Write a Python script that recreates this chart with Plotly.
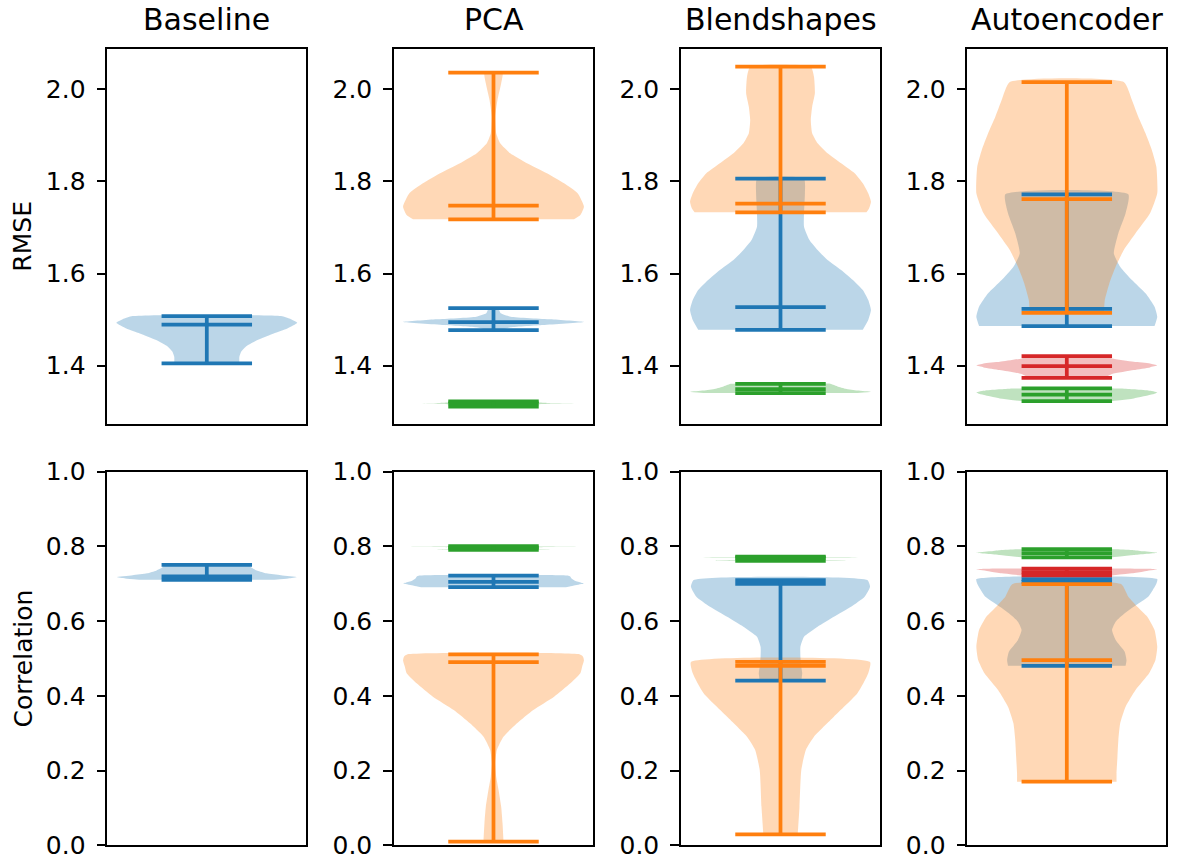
import plotly.graph_objects as go

FONT = "DejaVu Sans"
BLUE, ORANGE, GREEN, RED = "#1f77b4", "#ff7f0e", "#2ca02c", "#d62728"

methods = ["Baseline", "PCA", "Blendshapes", "Autoencoder"]
metrics = ["RMSE", "Correlation"]

# ---- RMSE: density profiles (value, relative half-width) and (min, median, max) ----
baseline_rmse_y = [1.405, 1.4193, 1.4302, 1.4411, 1.4556, 1.4701, 1.4810, 1.4932, 1.5010, 1.5077]
baseline_rmse_w = [0.36, 0.36, 0.38, 0.43, 0.56, 0.74, 0.89, 1.0, 0.93, 0.82]
baseline_rmse_stats = [1.405, 1.489, 1.5077]

pca_rmse_blue_y = [1.4773, 1.4832, 1.4882, 1.4947, 1.5006, 1.5063, 1.5136, 1.5251]
pca_rmse_blue_w = [0.07, 0.19, 0.55, 1.0, 0.63, 0.19, 0.08, 0.05]
pca_rmse_blue_stats = [1.4773, 1.4947, 1.5251]
pca_rmse_orange_y = [1.7177, 1.7270, 1.7451, 1.7742, 1.7959, 1.8176, 1.8393, 1.8610, 1.8827,
                     1.9045, 1.9405, 1.9768, 2.0130, 2.0361]
pca_rmse_orange_w = [0.89, 0.96, 1.0, 0.93, 0.78, 0.59, 0.37, 0.185, 0.074, 0.03, 0.019, 0.044, 0.085, 0.10]
pca_rmse_orange_stats = [1.7177, 1.7473, 2.0361]
pca_rmse_green_y = [1.3112, 1.3140, 1.3164, 1.3174, 1.3182, 1.3190, 1.3200, 1.3227]
pca_rmse_green_w = [0.1, 0.3, 0.5, 0.62, 1.0, 0.62, 0.5, 0.2]
pca_rmse_green_stats = [1.3112, 1.3182, 1.3227]

blend_rmse_blue_y = [1.4780, 1.4991, 1.5208, 1.5425, 1.5642, 1.5859, 1.6076, 1.6293, 1.6510,
                     1.6727, 1.7016, 1.7307, 1.7742, 1.8060]
blend_rmse_blue_w = [0.91, 0.97, 1.0, 0.97, 0.91, 0.80, 0.67, 0.52, 0.41, 0.32, 0.26, 0.26, 0.27, 0.26]
blend_rmse_blue_stats = [1.4780, 1.5273, 1.8060]
blend_rmse_orange_y = [1.7329, 1.7416, 1.7559, 1.7742, 1.7959, 1.8176, 1.8393, 1.8610, 1.8827,
                       1.9045, 1.9333, 1.9622, 1.9913, 2.0274, 2.0491]
blend_rmse_orange_w = [0.95, 0.98, 1.0, 0.97, 0.91, 0.82, 0.67, 0.52, 0.41, 0.35, 0.335, 0.35, 0.38, 0.37, 0.335]
blend_rmse_orange_stats = [1.7329, 1.7516, 2.0491]
blend_rmse_green_y = [1.3405, 1.3433, 1.3460, 1.3500, 1.3550, 1.3579, 1.3607]
blend_rmse_green_w = [0.85, 1.0, 0.85, 0.72, 0.63, 0.59, 0.55]
blend_rmse_green_stats = [1.3405, 1.3492, 1.3607]

ae_rmse_blue_y = [1.4860, 1.5062, 1.5279, 1.5570, 1.5859, 1.6148, 1.6438, 1.6873, 1.7307, 1.7720]
ae_rmse_blue_w = [0.97, 1.0, 0.97, 0.87, 0.72, 0.59, 0.52, 0.57, 0.65, 0.68]
ae_rmse_blue_stats = [1.4860, 1.5236, 1.7720]
ae_rmse_orange_y = [1.5149, 1.5425, 1.5787, 1.6148, 1.6510, 1.6873, 1.7307, 1.7742, 1.8319,
                    1.8682, 1.9045, 1.9405, 1.9768, 2.0159]
ae_rmse_orange_w = [0.41, 0.42, 0.47, 0.54, 0.63, 0.76, 0.92, 1.0, 0.99, 0.94, 0.87, 0.79, 0.72, 0.63]
ae_rmse_orange_stats = [1.5149, 1.7618, 2.0159]
ae_rmse_green_y = [1.3231, 1.3290, 1.3380, 1.3420, 1.3460, 1.3486, 1.3505]
ae_rmse_green_w = [0.5, 0.74, 0.95, 1.0, 0.9, 0.74, 0.6]
ae_rmse_green_stats = [1.3231, 1.3370, 1.3505]
ae_rmse_red_y = [1.3737, 1.3818, 1.3905, 1.3963, 1.4007, 1.4050, 1.4085, 1.4158, 1.4209]
ae_rmse_red_w = [0.42, 0.5, 0.74, 0.92, 1.0, 0.92, 0.74, 0.5, 0.42]
ae_rmse_red_stats = [1.3737, 1.3991, 1.4209]

# ---- Correlation ----
baseline_corr_y = [0.7105, 0.7140, 0.7180, 0.7230, 0.7280, 0.7350, 0.7420, 0.7505]
baseline_corr_w = [0.75, 0.9, 1.0, 0.82, 0.66, 0.56, 0.5, 0.46]
baseline_corr_stats = [0.7105, 0.7200, 0.7505]

pca_corr_blue_y = [0.6910, 0.6950, 0.7000, 0.7011, 0.7030, 0.7080, 0.7150, 0.7190, 0.7220]
pca_corr_blue_w = [0.8, 0.88, 0.99, 1.0, 0.97, 0.9, 0.86, 0.85, 0.82]
pca_corr_blue_stats = [0.6910, 0.7054, 0.7220]
pca_corr_orange_y = [0.0097, 0.0142, 0.0589, 0.1033, 0.1480, 0.1836, 0.2194, 0.2550, 0.2906,
                     0.3265, 0.3621, 0.3977, 0.4335, 0.4603, 0.4779, 0.4950, 0.5050, 0.5111]
pca_corr_orange_w = [0.11, 0.11, 0.10, 0.085, 0.056, 0.03, 0.019, 0.037, 0.11,
                     0.26, 0.44, 0.67, 0.85, 0.96, 0.98, 1.0, 0.99, 0.95]
pca_corr_orange_stats = [0.0097, 0.4905, 0.5111]
pca_corr_green_y = [0.7910, 0.7920, 0.7930, 0.7960, 0.7985, 0.7990, 0.7995, 0.8010]
pca_corr_green_w = [0.3, 0.62, 0.35, 0.3, 0.6, 1.0, 0.6, 0.2]
pca_corr_green_stats = [0.7910, 0.7970, 0.8010]

blend_corr_blue_y = [0.4405, 0.4603, 0.4779, 0.5047, 0.5314, 0.5582, 0.5850, 0.6117, 0.6385,
                     0.6653, 0.6920, 0.7099]
blend_corr_blue_w = [0.23, 0.24, 0.23, 0.22, 0.22, 0.26, 0.41, 0.59, 0.78, 0.93, 0.99, 0.96]
blend_corr_blue_stats = [0.4405, 0.7000, 0.7099]
blend_corr_orange_y = [0.0294, 0.1033, 0.2015, 0.2550, 0.2906, 0.3441, 0.4067, 0.4603, 0.4908]
blend_corr_orange_w = [0.19, 0.21, 0.23, 0.28, 0.37, 0.59, 0.85, 0.97, 0.99]
blend_corr_orange_stats = [0.0294, 0.4803, 0.4908]
blend_corr_green_y = [0.7610, 0.7625, 0.7640, 0.7680, 0.7705, 0.7712, 0.7718, 0.7725]
blend_corr_green_w = [0.3, 0.72, 0.3, 0.25, 0.6, 1.0, 0.6, 0.3]
blend_corr_green_stats = [0.7610, 0.7700, 0.7725]

ae_corr_blue_y = [0.4806, 0.4958, 0.5181, 0.5494, 0.5761, 0.5984, 0.6208, 0.6385, 0.6653,
                  0.6830, 0.7000, 0.7126]
ae_corr_blue_w = [0.65, 0.66, 0.64, 0.54, 0.50, 0.54, 0.64, 0.74, 0.9, 0.95, 0.99, 1.0]
ae_corr_blue_stats = [0.4806, 0.7050, 0.7126]
ae_corr_orange_y = [0.1703, 0.1927, 0.2371, 0.2818, 0.3265, 0.3709, 0.4156, 0.4603, 0.4958,
                    0.5314, 0.5761, 0.6117, 0.6385, 0.6653, 0.6992]
ae_corr_orange_w = [0.55, 0.55, 0.56, 0.57, 0.59, 0.65, 0.76, 0.91, 0.98, 1.0, 0.97, 0.89, 0.78, 0.68, 0.60]
ae_corr_orange_stats = [0.1703, 0.4958, 0.6992]
ae_corr_green_y = [0.7710, 0.7770, 0.7830, 0.7870, 0.7900, 0.7925]
ae_corr_green_w = [0.5, 0.74, 1.0, 0.85, 0.74, 0.55]
ae_corr_green_stats = [0.7710, 0.7820, 0.7925]
ae_corr_red_y = [0.7222, 0.7280, 0.7330, 0.7386, 0.7404]
ae_corr_red_w = [0.5, 0.72, 0.85, 1.0, 0.9]
ae_corr_red_stats = [0.7222, 0.7310, 0.7404]

# panel index = row * 4 + column; violins listed in drawing order
panels = [
    [(BLUE, baseline_rmse_y, baseline_rmse_w, baseline_rmse_stats)],
    [(BLUE, pca_rmse_blue_y, pca_rmse_blue_w, pca_rmse_blue_stats),
     (ORANGE, pca_rmse_orange_y, pca_rmse_orange_w, pca_rmse_orange_stats),
     (GREEN, pca_rmse_green_y, pca_rmse_green_w, pca_rmse_green_stats)],
    [(BLUE, blend_rmse_blue_y, blend_rmse_blue_w, blend_rmse_blue_stats),
     (ORANGE, blend_rmse_orange_y, blend_rmse_orange_w, blend_rmse_orange_stats),
     (GREEN, blend_rmse_green_y, blend_rmse_green_w, blend_rmse_green_stats)],
    [(BLUE, ae_rmse_blue_y, ae_rmse_blue_w, ae_rmse_blue_stats),
     (ORANGE, ae_rmse_orange_y, ae_rmse_orange_w, ae_rmse_orange_stats),
     (GREEN, ae_rmse_green_y, ae_rmse_green_w, ae_rmse_green_stats),
     (RED, ae_rmse_red_y, ae_rmse_red_w, ae_rmse_red_stats)],
    [(BLUE, baseline_corr_y, baseline_corr_w, baseline_corr_stats)],
    [(BLUE, pca_corr_blue_y, pca_corr_blue_w, pca_corr_blue_stats),
     (ORANGE, pca_corr_orange_y, pca_corr_orange_w, pca_corr_orange_stats),
     (GREEN, pca_corr_green_y, pca_corr_green_w, pca_corr_green_stats)],
    [(BLUE, blend_corr_blue_y, blend_corr_blue_w, blend_corr_blue_stats),
     (ORANGE, blend_corr_orange_y, blend_corr_orange_w, blend_corr_orange_stats),
     (GREEN, blend_corr_green_y, blend_corr_green_w, blend_corr_green_stats)],
    [(BLUE, ae_corr_blue_y, ae_corr_blue_w, ae_corr_blue_stats),
     (ORANGE, ae_corr_orange_y, ae_corr_orange_w, ae_corr_orange_stats),
     (GREEN, ae_corr_green_y, ae_corr_green_w, ae_corr_green_stats),
     (RED, ae_corr_red_y, ae_corr_red_w, ae_corr_red_stats)],
]

W, H = 1180, 861
POS = 1.0          # violin position on the x axis
HALF_BODY = 0.25   # max half-width of a violin body
HALF_LINE = 0.125  # half-length of the min/median/max bars
X_RANGE = [0.725, 1.275]
Y_RANGES = [[1.2734, 2.0869], [0.0, 1.0]]

col_left = [107.3, 394.0, 681.0, 967.3]
col_w = 199.0
row_top = [49.3, 471.7]
row_h = [374.7, 373.6]


def rgba(hex_color, a):
    h = hex_color.lstrip("#")
    r, g, b = int(h[0:2], 16), int(h[2:4], 16), int(h[4:6], 16)
    return f"rgba({r},{g},{b},{a})"


fig = go.Figure()

for idx, violins in enumerate(panels):
    ax = "" if idx == 0 else str(idx + 1)
    xref, yref = "x" + ax, "y" + ax
    # bodies underneath
    for color, ys, ws, _ in violins:
        xs = [POS + HALF_BODY * w for w in ws] + [POS - HALF_BODY * w for w in ws[::-1]]
        yy = list(ys) + list(ys[::-1])
        fig.add_trace(go.Scatter(
            x=xs, y=yy, mode="lines", fill="toself", fillcolor=rgba(color, 0.3),
            line=dict(width=0, color=rgba(color, 0.3), shape="spline", smoothing=0.5),
            xaxis=xref, yaxis=yref, hoverinfo="skip", showlegend=False))
    # extrema / median bars on top
    for color, _, _, (mn, md, mx) in violins:
        lx = [POS - HALF_LINE, POS + HALF_LINE, None,
              POS - HALF_LINE, POS + HALF_LINE, None,
              POS - HALF_LINE, POS + HALF_LINE, None, POS, POS]
        ly = [mn, mn, None, md, md, None, mx, mx, None, mn, mx]
        fig.add_trace(go.Scatter(
            x=lx, y=ly, mode="lines", line=dict(width=3.75, color=color),
            xaxis=xref, yaxis=yref, hoverinfo="skip", showlegend=False))

layout = dict(
    width=W, height=H, margin=dict(l=0, r=0, t=0, b=0, autoexpand=False),
    paper_bgcolor="white", plot_bgcolor="white", showlegend=False,
    font=dict(family=FONT, color="black"),
)

annotations = []
for idx in range(8):
    row, col = divmod(idx, 4)
    ax = "" if idx == 0 else str(idx + 1)
    x0 = col_left[col] / W
    x1 = (col_left[col] + col_w) / W
    y1 = 1 - row_top[row] / H
    y0 = 1 - (row_top[row] + row_h[row]) / H
    layout["xaxis" + ax] = dict(
        domain=[x0, x1], range=X_RANGE, showticklabels=False, ticks="",
        showgrid=False, zeroline=False, showline=True, mirror=True, automargin=False,
        linecolor="black", linewidth=2, anchor="y" + ax, fixedrange=True)
    layout["yaxis" + ax] = dict(
        domain=[y0, y1], range=Y_RANGES[row], tick0=0, dtick=0.2, tickformat=".1f",
        ticks="outside", ticklen=8.75, tickwidth=2, tickcolor="black",
        tickfont=dict(family=FONT, size=25, color="black"), ticklabelstandoff=6,
        showgrid=False, zeroline=False, showline=True, mirror=True, automargin=False,
        linecolor="black", linewidth=2, anchor="x" + ax, fixedrange=True)
    if row == 0:
        annotations.append(dict(
            text=methods[col], x=(x0 + x1) / 2, y=1 - 39 / H, xref="paper", yref="paper",
            xanchor="center", yanchor="bottom", showarrow=False,
            font=dict(family=FONT, size=30, color="black")))

for row in range(2):
    annotations.append(dict(
        text=metrics[row], x=23 / W, y=1 - (row_top[row] + row_h[row] / 2) / H,
        xref="paper", yref="paper", xanchor="center", yanchor="middle",
        textangle=-90, showarrow=False, font=dict(family=FONT, size=25, color="black")))

layout["annotations"] = annotations
fig.update_layout(**layout)
fig.write_html("out.html")
